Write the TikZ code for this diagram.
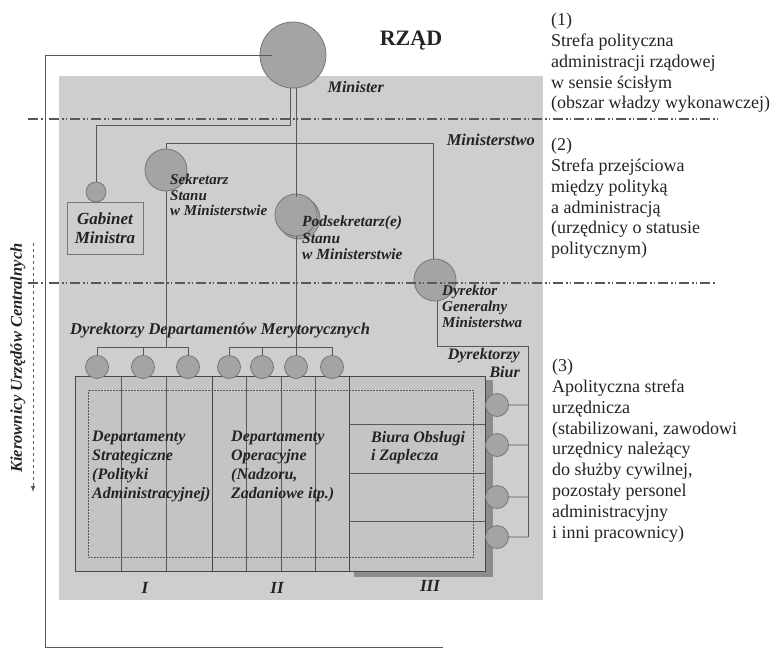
\documentclass[tikz,border=0pt]{standalone}
\usepackage{fontspec}
\setmainfont{Liberation Serif}
\usetikzlibrary{arrows, positioning, shapes}

\definecolor{tlo}{RGB}{206,206,206}
\definecolor{pole}{RGB}{196,196,196}
\definecolor{kolo}{RGB}{164,164,164}
\definecolor{obrys}{RGB}{118,118,118}
\definecolor{linia}{RGB}{88,88,88}
\definecolor{ramka}{RGB}{70,70,70}
\definecolor{cien}{RGB}{140,140,140}
\definecolor{tekst}{RGB}{35,35,35}

\begin{document}
\begin{tikzpicture}[x=1pt, y=-1pt,
    osoba/.style={circle, draw=obrys, fill=kolo, inner sep=0pt, line width=0.8pt},
    polacz/.style={draw=linia, line width=0.9pt},
    podwojna/.style={draw=linia, double=kolo, double distance=1.2pt, line width=0.8pt},
    cienka/.style={draw=linia, line width=0.5pt},
    opis/.style={font=\bfseries\itshape\fontsize{15}{17}\selectfont, text=tekst, inner sep=0pt, align=left},
    strefa/.style={font=\fontsize{18}{20.8}\selectfont, text=tekst, inner sep=0pt, align=left, anchor=north west},
    kreskakropka/.style={draw=linia, line width=1.4pt, dash pattern=on 10pt off 3pt on 1.5pt off 2pt on 1.5pt off 3pt},
    dzial/.style={draw=ramka, fill=pole, line width=1.3pt, minimum width=137pt, minimum height=195pt, anchor=north west, inner sep=0pt}]
    \useasboundingbox (0,0) rectangle (775,651);
    \fill[tlo] (59,76) rectangle (543,600);

    % osoby
    \node[osoba, minimum size=66pt] (minister) at (293,55) {};
    \node[osoba, minimum size=20pt] (gabk) at (96,192) {};
    \node[draw=obrys, line width=0.8pt, minimum width=76pt, minimum height=52pt, align=center,
          font=\bfseries\itshape\fontsize{17}{19}\selectfont, text=tekst, inner sep=0pt] (gabinet) at (105,228) {Gabinet\\Ministra};
    \node[osoba, minimum size=42pt] (sekr) at (166,170) {};
    \node[osoba, minimum size=42pt] (podsekcien) at (299,218) {};
    \node[osoba, minimum size=42pt] (podsek) at (296,215) {};
    \node[osoba, minimum size=42pt] (dyrgen) at (435,280) {};

    % ramka zewnetrzna
    \draw[polacz] ([xshift=12pt]minister.west) -- (45,55) -- (45,647) -- (443,647);

    % dzialy
    \fill[cien] (354,380) rectangle (493,577);
    \node[dzial] (dzI) at (75,376) {};
    \node[dzial] (dzII) at (212,376) {};
    \node[dzial, minimum width=136pt] (dzIII) at (349,376) {};
    \foreach \x in {121,166,246,281,315}
        \draw[cienka] (\x,376) -- (\x,571);
    \foreach \y in {424,473,521}
        \draw[cienka] (349,\y) -- (485,\y);
    \draw[cienka, densely dotted] (88,390) rectangle (473,557);

    % dyrektorzy
    \foreach \x [count=\i] in {97,143,188,229,262,296,332}
        \node[osoba, minimum size=23pt] (d\i) at (\x,367) {};
    \foreach \y [count=\i] in {405,445,497,537}
        \node[osoba, minimum size=23pt] (b\i) at (497,\y) {};

    % polaczenia
    \coordinate (galaz) at (300,143);
    \coordinate (klamra) at (200,347);
    \coordinate (biura) at (528,346);
    \draw[polacz] ([xshift=-3pt]minister.south) -- ++(0,37) -| (gabk.north);
    \draw[polacz] ([xshift=3pt]minister.south) -- (podsekcien.north -| podsek.north);
    \draw[polacz] (sekr.north) -- (sekr.north |- galaz) -| ([xshift=-2pt]dyrgen.north);
    \draw[polacz] (sekr.south) -- (sekr.south |- klamra);
    \draw[polacz] (d1.north) -- (d1.north |- klamra) -| (d3.north);
    \draw[polacz] (d2.north) -- (d2.north |- klamra);
    \draw[polacz] (podsek.south) -- (d6.north);
    \draw[polacz] (d4.north) -- (d4.north |- klamra) -| (d7.north);
    \draw[polacz] (d5.north) -- (d5.north |- klamra);
    \draw[polacz] ([xshift=2pt]dyrgen.south) |- (biura) -- (biura |- b4);
    \foreach \i in {1,...,4}
        \draw[podwojna] (b\i.east) -- (b\i -| biura);

    % strefy
    \draw[kreskakropka] (28,119) -- (720,119);
    \draw[kreskakropka] (28,283) -- (715,283);
    \draw[linia, line width=1pt, dashed, -latex] (33,243) -- (33,492);

    % napisy
    \node[font=\bfseries\fontsize{22}{24}\selectfont, text=tekst, inner sep=0pt] (rzad) at (411,41) {RZĄD};
    \node[opis, font=\bfseries\itshape\fontsize{16}{18}\selectfont, anchor=north east] (minlbl) at (384,81) {Minister};
    \node[opis, font=\bfseries\itshape\fontsize{16.5}{18}\selectfont, anchor=north east] (mstwo) at (535,134) {Ministerstwo};
    \node[opis, font=\bfseries\itshape\fontsize{15}{15.5}\selectfont, anchor=north west] (sekrlbl) at (170,174) {Sekretarz\\Stanu\\w Ministerstwie};
    \node[opis, font=\bfseries\itshape\fontsize{15.5}{16.5}\selectfont, anchor=north west] (podseklbl) at (302,216) {Podsekretarz(e)\\Stanu\\w Ministerstwie};
    \node[opis, font=\bfseries\itshape\fontsize{15}{16}\selectfont, anchor=north west] (dyrgenlbl) at (442,285) {Dyrektor\\Generalny\\Ministerstwa};
    \node[opis, font=\bfseries\itshape\fontsize{16}{18.5}\selectfont, align=right, anchor=north east] (biurlbl) at (520,348) {Dyrektorzy\\Biur};
    \node[opis, font=\bfseries\itshape\fontsize{16.5}{18}\selectfont, anchor=west] (merlbl) at (70,331) {Dyrektorzy Departamentów Merytorycznych};
    \node[opis, font=\bfseries\itshape\fontsize{16}{19}\selectfont, anchor=north west] (strlbl) at (92,431) {Departamenty\\Strategiczne\\(Polityki\\Administracyjnej)};
    \node[opis, font=\bfseries\itshape\fontsize{16}{19}\selectfont, anchor=north west] (operlbl) at (231,431) {Departamenty\\Operacyjne\\(Nadzoru,\\Zadaniowe itp.)};
    \node[opis, font=\bfseries\itshape\fontsize{16}{18}\selectfont, anchor=north west] (biuralbl) at (371,431) {Biura Obsługi\\i Zaplecza};
    \node[opis, font=\bfseries\itshape\fontsize{17}{19}\selectfont] (nrI) at (145,588) {I};
    \node[opis, font=\bfseries\itshape\fontsize{17}{19}\selectfont] (nrII) at (277,588) {II};
    \node[opis, font=\bfseries\itshape\fontsize{17}{19}\selectfont] (nrIII) at (430,586) {III};
    \node[opis, font=\bfseries\itshape\fontsize{16.5}{18}\selectfont, rotate=90] (kier) at (18,358) {Kierownicy Urzędów Centralnych};

    \node[strefa] (strefa1) at (551,13) {(1)\\Strefa polityczna\\administracji rządowej\\w sensie ścisłym\\(obszar władzy wykonawczej)};
    \node[strefa] (strefa2) at (551,138) {(2)\\Strefa przejściowa\\między polityką\\a administracją\\(urzędnicy o statusie\\politycznym)};
    \node[strefa] (strefa3) at (552,359) {(3)\\Apolityczna strefa\\urzędnicza\\(stabilizowani, zawodowi\\urzędnicy należący\\do służby cywilnej,\\pozostały personel\\administracyjny\\i inni pracownicy)};
\end{tikzpicture}
\end{document}
